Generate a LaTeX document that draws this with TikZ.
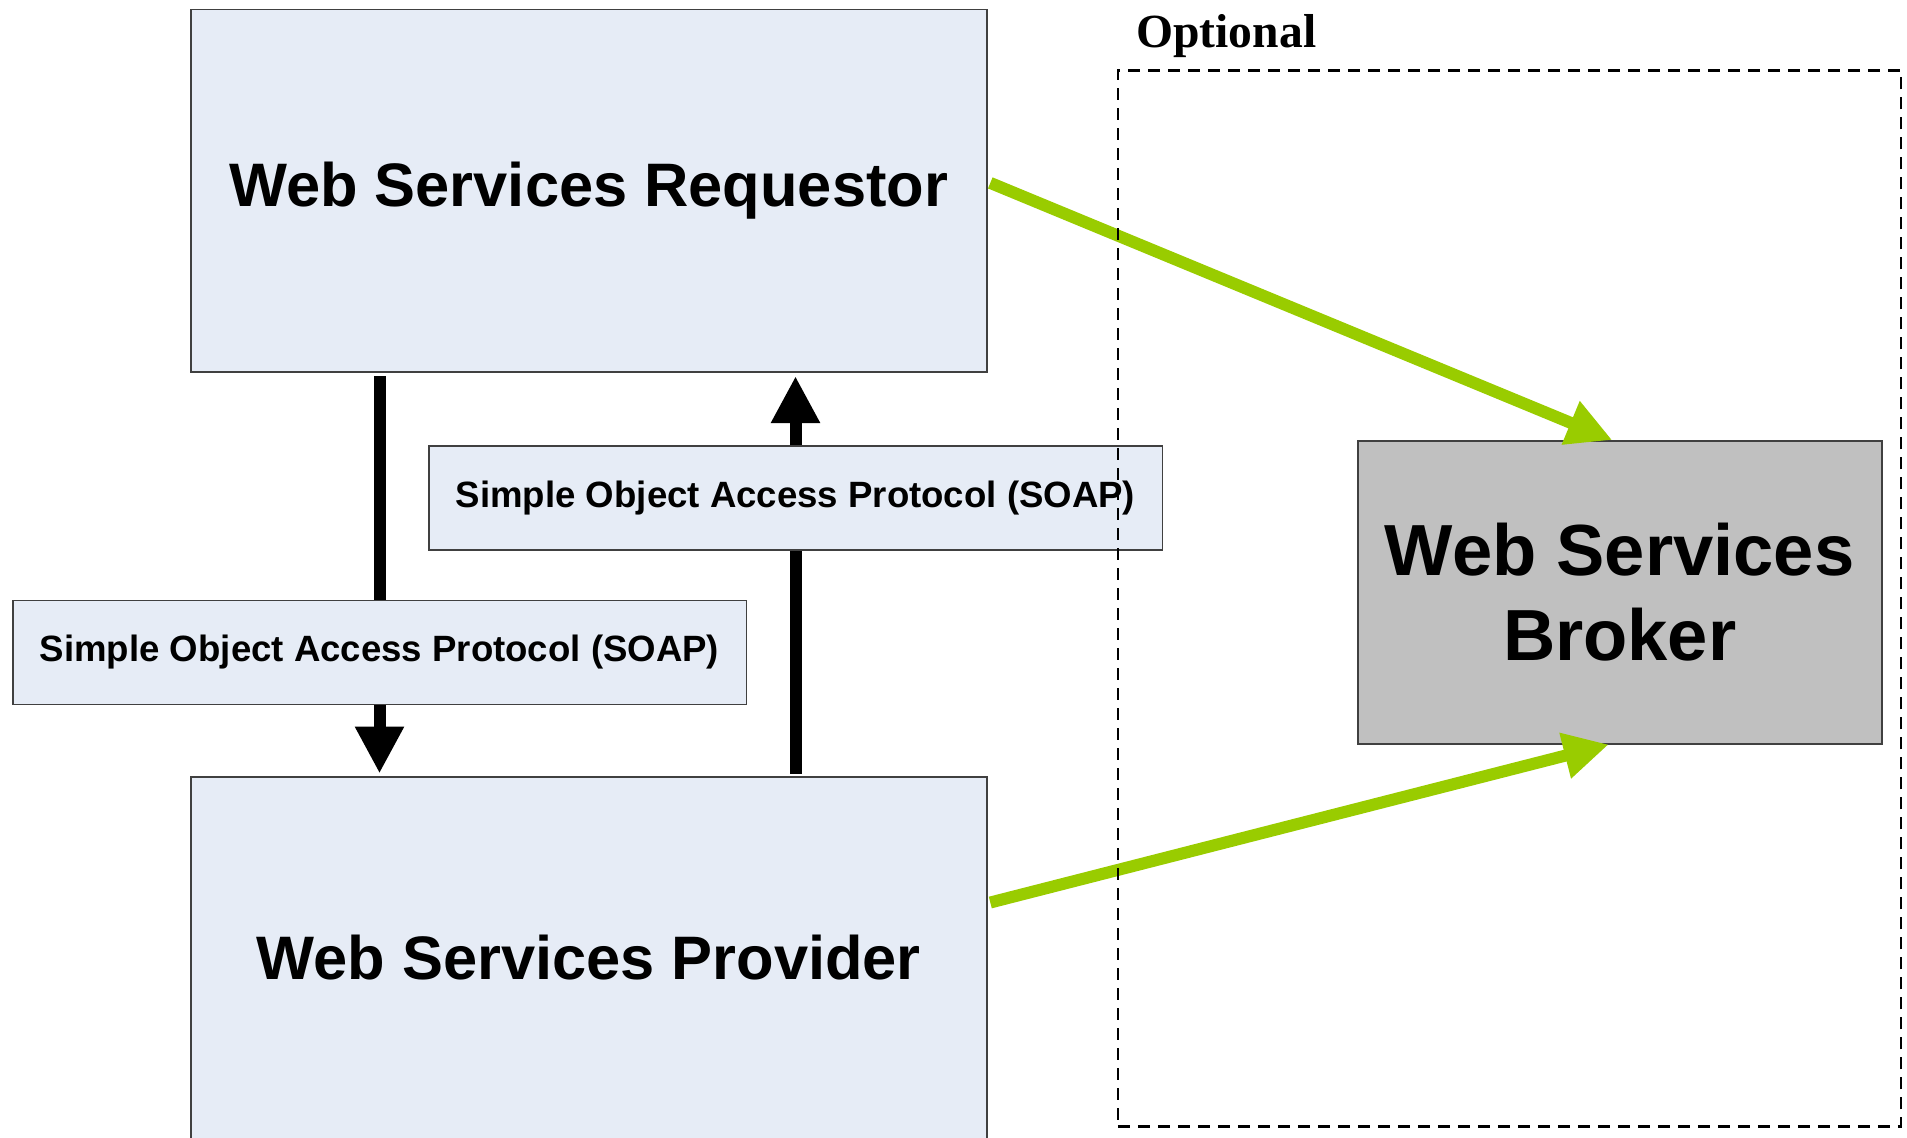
\documentclass[tikz,border=0pt]{standalone}
\usepackage{fontspec}
\setmainfont{Liberation Serif}
\setsansfont{Liberation Sans}
\usetikzlibrary{arrows.meta,backgrounds}
\definecolor{boxblue}{HTML}{E6ECF6}
\definecolor{brokergray}{HTML}{C0C0C0}
\definecolor{edgegray}{HTML}{404040}
\definecolor{linkgreen}{HTML}{99CC00}
\begin{document}
\begin{tikzpicture}[x=0.5pt,y=-0.5pt,
  panel/.style={draw=edgegray, line width=0.75pt, fill=boxblue, rectangle,
    inner sep=0pt, anchor=north west,
    font=\sffamily\bfseries\fontsize{30.7pt}{36pt}\selectfont},
  brokerbox/.style={panel, fill=brokergray, align=center,
    font=\sffamily\bfseries\fontsize{36.2pt}{42.5pt}\selectfont},
  soaplabel/.style={panel, minimum width=366.75pt, minimum height=52pt,
    font=\sffamily\bfseries\fontsize{18.3pt}{22pt}\selectfont},
  soapflow/.style={line width=6pt, black, -{Triangle[length=23.5pt,width=23pt]}},
  registry/.style={line width=6pt, linkgreen, -{Triangle[length=22.5pt,width=22pt]}},
  optframe/.style={draw=black, line width=1.25pt, dash pattern=on 6pt off 4pt}
]
\useasboundingbox (0,0) rectangle (1907,1137);

% main participants
\node[panel, minimum width=398pt, minimum height=181.25pt] (req) at (190,8.5)
  {Web Services Requestor};
\node[panel, minimum width=398pt, minimum height=181pt] (prov) at (190,776)
  {Web Services Provider};
\node[brokerbox, minimum width=262pt, minimum height=151.5pt] (brk) at (1357,440)
  {Web Services\\Broker};

% protocol labels
\node[soaplabel] (soapU) at (428,445) {Simple Object Access Protocol (SOAP)};
\node[soaplabel] (soapL) at (12,599.6) {Simple Object Access Protocol (SOAP)};

% message flow between requestor and provider, behind the labels
\begin{pgfonlayer}{background}
\draw[soapflow, shorten <=1.8pt, shorten >=1.25pt]
  (req.south -| soapL.center) -- (prov.north -| soapL.center);
\draw[soapflow, shorten <=1.25pt, shorten >=1.8pt]
  (prov.north -| soapU.center) -- (req.south -| soapU.center);
\end{pgfonlayer}

% registry links
\draw[registry] ([yshift=3.8pt,xshift=1.4pt]req.east) -- ([xshift=-3.75pt]brk.north);
\draw[registry] ([yshift=-63.25pt,xshift=1.4pt]prov.north east) -- ([xshift=-5.5pt]brk.south);

% optional region
\node[optframe, rectangle, inner sep=0pt, anchor=north west,
  minimum width=391.6pt, minimum height=527.85pt] (opt) at (1116.5,69.3) {};
\node[anchor=base west, inner sep=0pt,
  font=\rmfamily\bfseries\fontsize{23.8pt}{28pt}\selectfont] (optlabel) at (1136,47) {Optional};
\end{tikzpicture}
\end{document}
